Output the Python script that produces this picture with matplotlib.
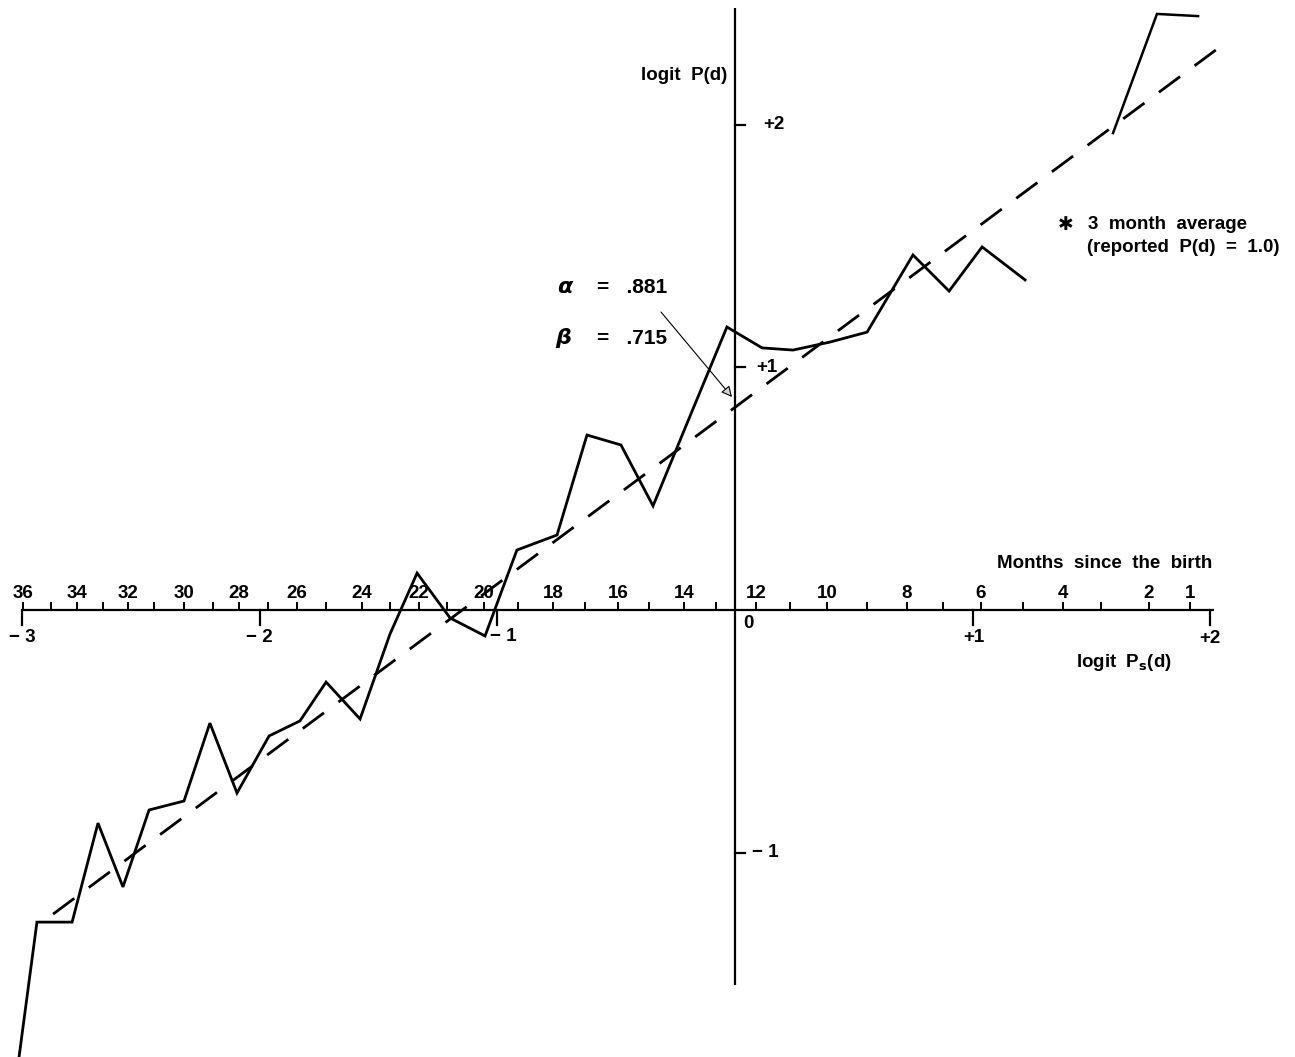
import matplotlib
matplotlib.use("Agg")
import matplotlib.pyplot as plt

plt.rcParams['font.family'] = ['Liberation Sans', 'DejaVu Sans']
plt.rcParams['font.weight'] = 'bold'
plt.rcParams['mathtext.default'] = 'regular'

# ---------------- data ----------------
# months since the birth and their position on the logit Ps(d) scale (axis ticks)
months = [36, 35, 34, 33, 32, 31, 30, 29, 28, 27, 26, 25, 24, 23, 22, 21, 20, 19,
          18, 17, 16, 15, 14, 13, 12, 11, 10, 9, 8, 7, 6, 5, 4, 3, 2, 1]
month_pos = [-2.998, -2.879, -2.769, -2.660, -2.555, -2.445, -2.319, -2.197, -2.088,
             -1.966, -1.843, -1.721, -1.570, -1.452, -1.330, -1.212, -1.056, -0.913,
             -0.766, -0.631, -0.492, -0.362, -0.215, -0.080, 0.088, 0.231, 0.387,
             0.556, 0.724, 0.875, 1.035, 1.212, 1.380, 1.540, 1.742, 1.915]
month_labels = ['36', '34', '32', '30', '28', '26', '24', '22', '20', '18', '16',
                '14', '12', '10', '8', '6', '4', '2', '1']

# observed logit P(d) against logit Ps(d) (months 36 .. 5)
obs_x = [-3.030, -2.938, -2.790, -2.681, -2.576, -2.466, -2.319, -2.210, -2.096,
         -1.961, -1.831, -1.721, -1.578, -1.452, -1.338, -1.199, -1.052, -0.918,
         -0.749, -0.623, -0.480, -0.345, -0.215, -0.034, 0.114, 0.244, 0.400,
         0.556, 0.749, 0.901, 1.040, 1.221]
obs_y = [-1.965, -1.286, -1.286, -0.878, -1.141, -0.824, -0.787, -0.466, -0.754,
         -0.519, -0.457, -0.297, -0.449, -0.099, 0.152, -0.033, -0.107, 0.247,
         0.309, 0.721, 0.680, 0.429, 0.738, 1.166, 1.080, 1.071, 1.104, 1.145,
         1.463, 1.314, 1.496, 1.360]

# 3 month average (reported P(d) = 1.0)
avg_x = [1.591, 1.776, 1.949]
avg_y = [1.965, 2.456, 2.447]

# fitted line end points (alpha = .881, beta = .715)
fit_x = [-2.870, 2.041]
fit_y = [-1.253, 2.320]
alpha_text = '.881'
beta_text = '.715'

logit_x_ticks = [-3, -2, -1, 0, 1, 2]
logit_x_labels = ['\u2212 3', '\u2212 2', '\u2212 1', '0', '+1', '+2']
logit_y_ticks = [2, 1, -1]
logit_y_labels = ['+2', '+1', '\u2212 1']

# ---------------- layout helpers ----------------
W, H = 1295, 1057
X0, SX = 735.0, 237.6
Y0, SY = 610.0, 242.7


def px(x):
    return (x - X0) / SX


def py(y):
    return (Y0 - y) / SY


fig = plt.figure(figsize=(W / 100, H / 100), dpi=100)
ax = fig.add_axes([0, 0, 1, 1])
ax.set_xlim(px(0), px(W))
ax.set_ylim(py(H), py(0))
ax.axis('off')

FS = 13.5
AX_LW = 1.6

# axes lines
ax.plot([px(22), px(1214)], [0, 0], color='black', lw=AX_LW, solid_capstyle='butt')
ax.plot([0, 0], [py(8), py(985)], color='black', lw=AX_LW, solid_capstyle='butt')

# month ticks (above the axis) and labels
mt = 7 / SY
for m, pos in zip(months, month_pos):
    ax.plot([pos, pos], [0, mt], color='black', lw=1.4)
    if str(m) in month_labels:
        ax.text(pos, py(593), str(m), ha='center', va='center', fontsize=FS)

ax.text(px(1212), py(563), 'Months  since  the  birth', ha='right', va='center',
        fontsize=FS)

# logit Ps(d) ticks (below the axis)
lt = 15 / SY
label_dx = [0, 0, 6, 13, 1, 0]
label_y = [637, 637, 636, 623, 637, 638]
for t, lab, dx, ly in zip(logit_x_ticks, logit_x_labels, label_dx, label_y):
    if t != 0:
        ax.plot([t, t], [0, -lt], color='black', lw=AX_LW)
    ax.text(t + dx / SX, py(ly), lab, ha='center', va='center', fontsize=FS)

ax.text(px(1124), py(662), r'logit  P$_{\mathbf{s}}$(d)', ha='center', va='center',
        fontsize=FS)

# logit P(d) ticks
yt = 10 / SX
ylab_x = [774, 767, 765]
for t, lab, lx in zip(logit_y_ticks, logit_y_labels, ylab_x):
    ax.plot([0, yt], [t, t], color='black', lw=AX_LW)
    ax.text(px(lx), t, lab, ha='center', va='center', fontsize=FS)

ax.text(px(727), py(75), 'logit  P(d)', ha='right', va='center', fontsize=FS)

# fitted line (dashed)
ax.plot(fit_x, fit_y, color='black', lw=2.0, dashes=(9.5, 6.5))

# observed series
ax.plot(obs_x, obs_y, color='black', lw=2.0, solid_joinstyle='miter')
ax.plot(avg_x, avg_y, color='black', lw=1.8, solid_joinstyle='miter')

# parameters
ax.text(px(557), py(287), r'$\mathit{\alpha}$', ha='left', va='center', fontsize=16)
ax.text(px(555), py(338), r'$\mathit{\beta}$', ha='left', va='center', fontsize=16)
ax.text(px(667), py(287), '=   ' + alpha_text, ha='right', va='center', fontsize=15)
ax.text(px(667), py(338), '=   ' + beta_text, ha='right', va='center', fontsize=15)
ax.annotate('', xy=(px(732), py(397)), xytext=(px(661), py(312)),
            arrowprops=dict(arrowstyle='-|>', lw=0.8, color='black', fc='lightgray',
                            mutation_scale=16, shrinkA=0, shrinkB=0))

# note
ax.text(px(1058), py(224), '\u2731', ha='left', va='center', fontsize=FS,
        family=['DejaVu Sans'])
ax.text(px(1088), py(224), '3  month  average', ha='left', va='center', fontsize=FS)
ax.text(px(1087), py(247), '(reported  P(d)  =  1.0)', ha='left', va='center', fontsize=FS)

fig.savefig('out.png', dpi=100)
